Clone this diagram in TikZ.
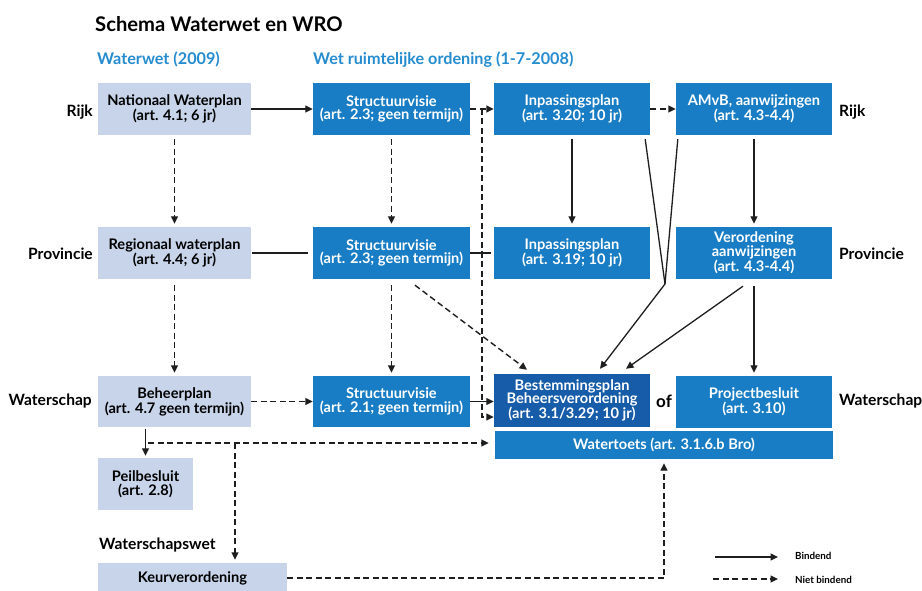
\documentclass[tikz,border=0pt]{standalone}
\usepackage{fontspec}
\setmainfont{Lato}
\usetikzlibrary{arrows.meta}
\definecolor{lightbox}{RGB}{200,212,234}
\definecolor{bluebox}{RGB}{24,125,196}
\definecolor{darkbox}{RGB}{22,92,168}
\definecolor{headblue}{RGB}{38,140,208}
\definecolor{linec}{RGB}{30,30,30}
\tikzset{
  boxtext/.style={font=\fontsize{14.6}{13.5}\selectfont\bfseries, align=center, inner sep=0pt},
  lbox/.style={boxtext, fill=lightbox, text=black, minimum width=153pt, minimum height=52pt},
  bbox/.style={boxtext, fill=bluebox, text=white, minimum width=157pt, minimum height=52pt},
  rowlab/.style={font=\fontsize{15.6}{17}\selectfont\bfseries, inner sep=0pt},
  head/.style={font=\fontsize{16.2}{18}\selectfont\bfseries, text=headblue, inner sep=0pt, anchor=base west},
  con/.style={draw=linec, line width=1.3pt},
  solidarrow/.style={con, -{Triangle[length=7.5pt,width=7pt]}},
  dashline/.style={con, line width=1.4pt, dash pattern=on 6pt off 3.5pt},
  dasharrow/.style={dashline, -{Triangle[length=7.5pt,width=7pt]}},
  legtext/.style={font=\fontsize{9.8}{11}\selectfont\bfseries, inner sep=0pt, anchor=west}
}
\begin{document}
\begin{tikzpicture}[x=1pt,y=-1pt]
\useasboundingbox[fill=white] (0,0) rectangle (922,591);

% title and headers
\node[font=\fontsize{20.2}{22}\selectfont\bfseries, inner sep=0pt, anchor=base west] (title) at (95,32) {Schema Waterwet en WRO};
\node[head] (h1) at (97,65) {Waterwet (2009)};
\node[head] (h2) at (313,65) {Wet ruimtelijke ordening (1-7-2008)};

% row 1
\node[lbox] (nwp) at (174.5,109) {Nationaal Waterplan\\(art. 4.1; 6 jr)};
\node[bbox] (svr) at (391.5,109) {Structuurvisie\\(art. 2.3; geen termijn)};
\node[bbox, minimum width=156pt] (ipr) at (572,109) {Inpassingsplan\\(art. 3.20; 10 jr)};
\node[bbox, minimum width=156pt] (amvb) at (754,109) {AMvB, aanwijzingen\\(art. 4.3-4.4)};

% row 2
\node[lbox] (rwp) at (174.5,253) {Regionaal waterplan\\(art. 4.4; 6 jr)};
\node[bbox] (svp) at (391.5,253) {Structuurvisie\\(art. 2.3; geen termijn)};
\node[bbox, minimum width=156pt] (ipp) at (572,253) {Inpassingsplan\\(art. 3.19; 10 jr)};
\node[bbox, minimum width=156pt] (ver) at (754,253) {Verordening\\aanwijzingen\\(art. 4.3-4.4)};

% row 3
\node[lbox, minimum height=51pt] (beh) at (174.5,401.5) {Beheerplan\\(art. 4.7 geen termijn)};
\node[bbox, minimum height=51pt] (svw) at (391.5,401.5) {Structuurvisie\\(art. 2.1; geen termijn)};
\node[bbox, fill=darkbox, minimum width=156pt, minimum height=53pt] (bp) at (572,400.5) {Bestemmingsplan\\Beheersverordening\\(art. 3.1/3.29; 10 jr)};
\node[bbox, minimum width=156pt] (pb) at (754,402) {Projectbesluit\\(art. 3.10)};
\node[bbox, minimum width=338pt, minimum height=28pt] (wt) at (664,445) {Watertoets (art. 3.1.6.b Bro)};
\node[lbox, minimum width=95pt] (peil) at (145.5,484) {Peilbesluit\\(art. 2.8)};
\node[lbox, minimum width=189pt, minimum height=30pt] (keur) at (192.5,578) {Keurverordening};

% row labels
\node[rowlab, anchor=east] (rijkL) at (93,112) {Rijk};
\node[rowlab, anchor=west] (rijkR) at (839,112) {Rijk};
\node[rowlab, anchor=east] (provL) at (93,254) {Provincie};
\node[rowlab, anchor=west] (provR) at (839,254) {Provincie};
\node[rowlab, anchor=east] (wsL) at (92,401) {Waterschap};
\node[rowlab, anchor=west] (wsR) at (839,401) {Waterschap};
\node[rowlab, font=\fontsize{17}{18}\selectfont\bfseries] (of) at (664,401) {of};
\node[rowlab, anchor=west] (wsw) at (99,545) {Waterschapswet};

% horizontal row 1
\draw[solidarrow] (nwp.east) -- (svr.west);
\draw[dasharrow] (svr.east) -- (ipr.west);
\draw[dasharrow] (ipr.east) -- (amvb.west);

% verticals
\draw[dasharrow, shorten <=4pt, shorten >=3pt] (nwp.south) -- (rwp.north);
\draw[dasharrow, shorten <=4pt, shorten >=3pt] (svr.south) -- (svp.north);
\draw[solidarrow, shorten <=4pt, shorten >=3pt] (ipr.south) -- (ipp.north);
\draw[solidarrow, shorten <=4pt, shorten >=3pt] (amvb.south) -- (ver.north);
\draw[dasharrow, shorten <=6pt, shorten >=3pt] (rwp.south) -- (beh.north);
\draw[dasharrow, shorten <=6pt, shorten >=3pt] (svp.south) -- (svw.north);
\draw[solidarrow, shorten <=7pt, shorten >=3pt] (ver.south) -- (pb.north);

% row 2 links
\draw[con, shorten <=1pt, shorten >=5pt] (rwp.east) -- (svp.west);
\draw[con, shorten >=3pt] (svp.east) -- (ipp.west);

% branch down to Bestemmingsplan
\coordinate (b1) at (482,109);
\coordinate (b2) at (482,417);
\draw[dasharrow] (b1) -- (b2) -- (b2 -| bp.west);

% diagonal dashed
\draw[dasharrow] ([xshift=23.5pt,yshift=-6pt]svp.south) -- ([xshift=-45pt,yshift=4pt]bp.north);

% row 3 links
\draw[dasharrow] (beh.east) -- (svw.west);
\draw[solidarrow] (svw.east) -- (svw.east -| bp.west);

% converging lines
\coordinate (j) at (665,284);
\draw[con] ([xshift=-5pt,yshift=-4pt]ipr.south east) -- (j);
\draw[con] ([xshift=2pt,yshift=-4pt]amvb.south west) -- (j);
\draw[solidarrow] (j) -- ([xshift=28pt,yshift=5pt]bp.north);
\draw[solidarrow] ([xshift=-11pt,yshift=-7pt]ver.south) -- ([xshift=54pt,yshift=5pt]bp.north);

% waterschap bottom links
\draw[solidarrow, shorten <=2pt, shorten >=2pt] (beh.south -| peil.north) -- (peil.north);
\coordinate (d1) at (148,443);
\coordinate (d2) at (235,443);
\draw[dasharrow, shorten >=6pt] (d1) -- (d1 -| wt.west);
\draw[dasharrow, shorten >=3pt] (d2) -- (d2 |- keur.north);
\draw[dasharrow, shorten >=4pt] (keur.east) -- (keur.east -| wt.south) -- (wt.south);

% legend
\coordinate (l1s) at (715,557);
\coordinate (l1e) at (778,557);
\coordinate (l2s) at (713,579);
\coordinate (l2e) at (778,579);
\draw[solidarrow, line width=1.1pt] (l1s) -- (l1e);
\draw[dasharrow, line width=1.1pt] (l2s) -- (l2e);
\node[legtext] (bind) at (795,556) {Bindend};
\node[legtext] (nbind) at (795,580) {Niet bindend};
\end{tikzpicture}
\end{document}
